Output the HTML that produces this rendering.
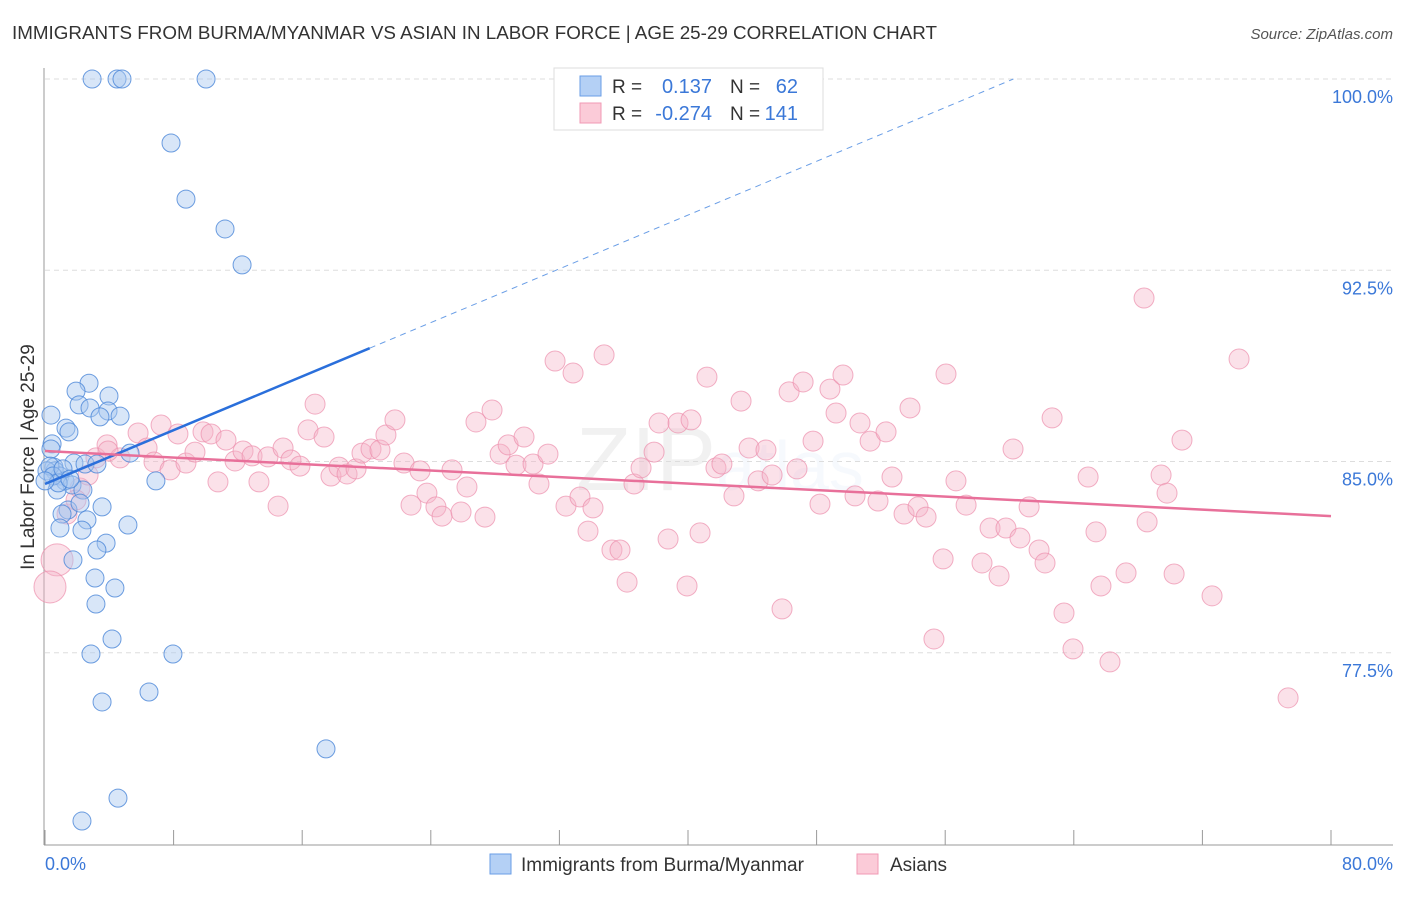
<!DOCTYPE html>
<html><head><meta charset="utf-8"><style>
body{margin:0;background:#fff;font-family:"Liberation Sans",sans-serif;}
svg text{font-family:"Liberation Sans",sans-serif;}
</style></head><body>
<svg id="chart" width="1406" height="892" xmlns="http://www.w3.org/2000/svg">
<text x="12" y="39" font-size="18" fill="#333" textLength="925" lengthAdjust="spacingAndGlyphs">IMMIGRANTS FROM BURMA/MYANMAR VS ASIAN IN LABOR FORCE | AGE 25-29 CORRELATION CHART</text>
<text x="1393" y="39" font-size="15" fill="#555" text-anchor="end" font-style="italic">Source: ZipAtlas.com</text>
<text x="720" y="490" font-size="90" fill="#000" opacity="0.05" text-anchor="middle" font-family="Liberation Serif">ZIP<tspan fill="#3b78d8" opacity="0.8" font-family="Liberation Sans" font-size="70">atlas</tspan></text>
<g id="grid"></g>
<g id="axes"></g>
<g id="pts"></g>
<g id="lines"></g>
<text transform="translate(34,457) rotate(-90)" font-size="19" fill="#333" text-anchor="middle">In Labor Force | Age 25-29</text>
<g>
<rect x="554" y="68" width="269" height="62" fill="#fff" stroke="#ddd"/>
<rect x="580" y="76" width="21" height="20" fill="#b4d0f5" stroke="#6a9ee6"/>
<rect x="580" y="103" width="21" height="20" fill="#fbcbd8" stroke="#f09ab4"/>
<text x="612" y="93" font-size="19" fill="#333">R =</text>
<text x="712" y="93" font-size="20" fill="#3b78d8" text-anchor="end">0.137</text>
<text x="730" y="93" font-size="19" fill="#333">N =</text>
<text x="798" y="93" font-size="20" fill="#3b78d8" text-anchor="end">62</text>
<text x="612" y="120" font-size="19" fill="#333">R =</text>
<text x="712" y="120" font-size="20" fill="#3b78d8" text-anchor="end">-0.274</text>
<text x="730" y="120" font-size="19" fill="#333">N =</text>
<text x="798" y="120" font-size="20" fill="#3b78d8" text-anchor="end">141</text>
</g>
<g>
<rect x="490" y="854" width="21" height="20" fill="#b4d0f5" stroke="#6a9ee6"/>
<text x="521" y="871" font-size="19" fill="#333">Immigrants from Burma/Myanmar</text>
<rect x="857" y="854" width="21" height="20" fill="#fbcbd8" stroke="#f09ab4"/>
<text x="890" y="871" font-size="19" fill="#333">Asians</text>
</g>
</svg>
<script>
const yTicks=[100,92.5,85,77.5];
const yTickLabels=["100.0%","92.5%","85.0%","77.5%"];
const xTickLabels=["0.0%","80.0%"];
const blueX=[2.93,4.48,4.79,10.02,7.84,8.77,11.20,12.26,2.74,1.93,2.12,2.80,3.98,0.37,3.92,4.67,3.42,1.306,1.49,0.44,0.37,1.80,2.49,0.56,3.23,5.29,0.62,0.93,1.24,1.68,2.36,0.75,6.90,1.43,2.18,3.55,1.06,2.61,0.93,2.30,5.16,1.74,3.80,3.23,3.11,4.35,3.17,4.17,2.86,7.96,6.47,3.55,17.48,4.54,2.30,0.12,0.31,0.50,0.82,1.12,1.55,0];
const blueY=[100,100,100,100,97.49,95.29,94.12,92.71,88.07,87.76,87.22,87.10,87.57,86.82,86.98,86.78,86.75,86.31,86.16,85.69,85.49,84.94,84.90,84.78,84.90,85.33,84.63,84.43,84.24,84.08,83.88,83.88,84.24,83.10,83.37,83.22,82.94,82.71,82.39,82.31,82.51,81.14,81.80,81.53,80.43,80.04,79.41,78.04,77.45,77.45,75.96,75.57,73.73,71.80,70.90,84.63,84.82,84.43,84.16,84.71,84.31,84.24];
const pinkX=[0.75,0.31,1.37,2.18,2.68,1.93,3.17,3.86,4.67,3.92,5.79,7.22,6.35,6.78,7.78,8.27,8.77,9.33,9.83,10.33,10.76,11.26,11.82,12.32,12.88,13.31,13.87,14.50,14.81,15.30,15.86,16.36,16.80,17.36,17.79,18.29,18.79,19.35,19.72,20.28,20.84,21.21,21.77,22.33,22.77,23.33,23.76,24.32,24.70,25.32,25.88,26.25,26.81,27.37,27.81,28.31,28.81,29.30,29.80,30.36,30.73,31.29,31.73,32.41,32.85,33.28,33.78,34.09,34.78,35.27,35.77,36.21,36.64,37.08,37.89,38.20,38.76,39.38,39.94,40.19,40.75,41.18,41.74,42.11,42.86,43.30,43.80,44.36,44.85,45.23,45.85,46.29,46.78,47.16,47.78,48.21,48.83,49.21,49.64,50.39,50.70,51.33,51.82,52.32,52.69,53.44,53.81,54.31,54.81,55.30,55.87,56.05,56.67,57.30,58.29,58.79,59.35,59.78,60.22,60.65,61.22,61.84,62.21,62.65,63.39,63.95,64.89,65.38,65.69,66.25,67.25,68.37,68.56,69.43,69.80,70.24,70.73,72.60,74.28,77.33];
const pinkY=[81.14,80.08,82.94,83.96,84.47,83.49,85.14,85.65,85.14,85.41,86.12,86.43,85.53,84.98,84.67,86.08,84.94,85.37,86.16,86.08,84.20,85.84,85.02,85.41,85.22,84.20,85.18,83.25,85.53,85.06,84.82,86.24,87.25,85.96,84.43,84.78,84.51,84.71,85.33,85.49,85.45,86.04,86.63,84.94,83.29,84.63,83.76,83.22,82.86,84.67,83.02,84.00,86.55,82.82,87.02,85.29,85.65,84.86,85.96,84.90,84.12,85.29,88.94,83.25,88.47,83.61,82.27,83.18,89.18,81.53,81.53,80.27,84.12,84.75,85.37,86.51,81.96,86.51,80.12,86.63,82.20,88.31,84.75,84.90,83.65,87.37,85.53,84.24,85.45,84.47,79.22,87.73,84.71,88.12,85.80,83.33,87.84,86.90,88.39,83.65,86.51,85.80,83.45,86.16,84.39,82.94,87.10,83.22,82.82,78.04,81.18,88.43,84.24,83.29,81.02,82.39,80.51,82.39,85.49,82.00,83.22,81.53,81.02,86.71,79.06,77.65,84.39,82.24,80.12,77.14,80.63,91.41,82.63,84.47,83.76,80.59,85.84,79.73,89.02,75.73];
const blueFit=[84.12,0.2636];
const pinkFit=[85.41,-0.0319];
const X0=45,X1=1331,Y100=79,PX=25.5;
const xs=v=>X0+v/80*(X1-X0);
const ys=v=>Y100+(100-v)*PX;
const NS="http://www.w3.org/2000/svg";
function mk(tag,attrs,parent){const e=document.createElementNS(NS,tag);for(const k in attrs)e.setAttribute(k,attrs[k]);document.getElementById(parent).appendChild(e);return e;}
yTicks.forEach((t,i)=>{
  const g=mk('line',{x1:45,x2:1393,y1:ys(t),y2:ys(t),stroke:'#ddd','stroke-dasharray':'5,4'},'grid');
  
  
  const l=mk('text',{x:1393,y:ys(t)+24,'font-size':18,fill:'#3b78d8','text-anchor':'end'},'grid');
  l.textContent=yTickLabels[i];
  
  
});
const ax=mk('line',{x1:44,x2:44,y1:68,y2:845,stroke:'#999'},'axes');


const bx=mk('line',{x1:44,x2:1393,y1:845,y2:845,stroke:'#999'},'axes');


for(let i=0;i<=10;i++){const t=mk('line',{x1:xs(i*8),x2:xs(i*8),y1:830,y2:845,stroke:'#999'},'axes');
  
  }
const xl0=mk('text',{x:45,y:870,'font-size':18,fill:'#3b78d8'},'axes');xl0.textContent=xTickLabels[0];


const xl1=mk('text',{x:1393,y:870,'font-size':18,fill:'#3b78d8','text-anchor':'end'},'axes');xl1.textContent=xTickLabels[1];


pinkX.forEach((x,i)=>{const big=i<2;const c=mk('circle',{cx:xs(x),cy:ys(pinkY[i]),r:big?16:10,fill:'#f6b3c8','fill-opacity':0.4,stroke:'#ec8fac','stroke-opacity':0.7,'stroke-width':1},'pts');
  
  });
blueX.forEach((x,i)=>{const c=mk('circle',{cx:xs(x),cy:ys(blueY[i]),r:9,fill:'#a8c8f0','fill-opacity':0.45,stroke:'#4a86d8','stroke-opacity':0.8,'stroke-width':1},'pts');
  
  });
const bEnd=(100-blueFit[0])/blueFit[1];
const bl=mk('line',{x1:xs(0),y1:ys(blueFit[0]),x2:xs(20.2),y2:ys(blueFit[0]+blueFit[1]*20.2),stroke:'#2a6fdb','stroke-width':2.5},'lines');


const bd=mk('line',{x1:xs(20.2),y1:ys(blueFit[0]+blueFit[1]*20.2),x2:xs(bEnd),y2:ys(100),stroke:'#6a9ee6','stroke-width':1,'stroke-dasharray':'6,5'},'lines');


const pl=mk('line',{x1:xs(0),y1:ys(pinkFit[0]),x2:xs(80),y2:ys(pinkFit[0]+pinkFit[1]*80),stroke:'#e8709a','stroke-width':2.5},'lines');


</script>
</body></html>
